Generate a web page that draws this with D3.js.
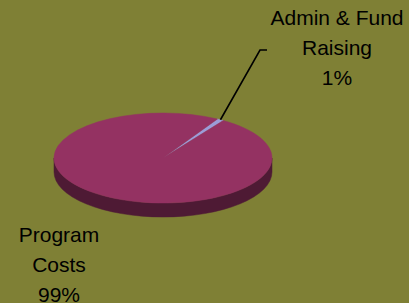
<!DOCTYPE html>
<html>
<head>
<meta charset="utf-8">
<script src="https://cdn.jsdelivr.net/npm/d3@7"></script>
<style>
  html, body { margin: 0; padding: 0; background: #7f8035; }
  svg { display: block; }
  text { font-family: "Liberation Sans", Arial, sans-serif; font-size: 21px; fill: #000; }
</style>
</head>
<body>
<div id="chart"></div>
<script>
// chart data
var categories = ["Admin & Fund Raising", "Program Costs"];
var shares = [1, 99];
var labelLines = [["Admin & Fund", "Raising", "1%"], ["Program", "Costs", "99%"]];
var topColors = ["#9c9cd8", "#943262"];
var sideColors = ["#5a5a86", "#4e1a34"];

var width = 409, height = 303;
var cx = 163, cy = 158, rx = 109, ry = 45, depth = 14;

var svg = d3.select("#chart").append("svg")
  .attr("width", width)
  .attr("height", height);

svg.append("rect")
  .attr("width", width).attr("height", height)
  .attr("fill", "#7f8035");

var slices = d3.pie().sort(null)
  .startAngle(30 * Math.PI / 180)
  .endAngle(30 * Math.PI / 180 + 2 * Math.PI)(shares);

// point on the top ellipse, angle clockwise from 12 o'clock
function pt(a, dy) {
  return [cx + rx * Math.sin(a), cy - ry * Math.cos(a) + (dy || 0)];
}

function topPath(d) {
  var s = pt(d.startAngle), e = pt(d.endAngle);
  var large = (d.endAngle - d.startAngle) > Math.PI ? 1 : 0;
  return "M" + cx + "," + cy + "L" + s + "A" + rx + "," + ry + " 0 " + large + " 1 " + e + "Z";
}

// outer wall pieces that face the viewer (front half)
function wallParts(d) {
  var parts = [];
  for (var k = -1; k <= 1; k++) {
    var lo = Math.PI / 2 + 2 * Math.PI * k, hi = 3 * Math.PI / 2 + 2 * Math.PI * k;
    var s = Math.max(d.startAngle, lo), e = Math.min(d.endAngle, hi);
    if (e > s) parts.push([s, e]);
  }
  return parts;
}

function wallPath(p) {
  var s = pt(p[0]), e = pt(p[1]), s2 = pt(p[0], depth), e2 = pt(p[1], depth);
  return "M" + s + "A" + rx + "," + ry + " 0 0 1 " + e +
    "L" + e2 + "A" + rx + "," + ry + " 0 0 0 " + s2 + "Z";
}

var walls = svg.append("g").attr("class", "walls");
slices.forEach(function(d, i) {
  wallParts(d).forEach(function(p) {
    walls.append("path")
      .attr("d", wallPath(p))
      .attr("fill", sideColors[i])
      .attr("stroke", sideColors[i])
      .attr("stroke-width", 0.5);
  });
});

svg.append("g").attr("class", "tops")
  .selectAll("path")
  .data(slices)
  .enter().append("path")
  .attr("d", topPath)
  .attr("fill", function(d, i) { return topColors[i]; })
  .attr("stroke", function(d, i) { return topColors[i]; })
  .attr("stroke-width", 0.5);

// leader line for the small slice
var mid = (slices[0].startAngle + slices[0].endAngle) / 2;
var m = pt(mid);
svg.append("polyline")
  .attr("points", [m, [260, 50], [267, 50]].join(" "))
  .attr("fill", "none")
  .attr("stroke", "#000")
  .attr("stroke-width", 1.6);

// labels
var labelPos = [[337, 25], [59, 242]];
labelLines.forEach(function(lines, i) {
  var t = svg.append("text")
    .attr("text-anchor", "middle")
    .attr("x", labelPos[i][0])
    .attr("y", labelPos[i][1]);
  lines.forEach(function(l, j) {
    t.append("tspan")
      .attr("x", labelPos[i][0])
      .attr("dy", j === 0 ? 0 : 30)
      .text(l);
  });
});
</script>
</body>
</html>
